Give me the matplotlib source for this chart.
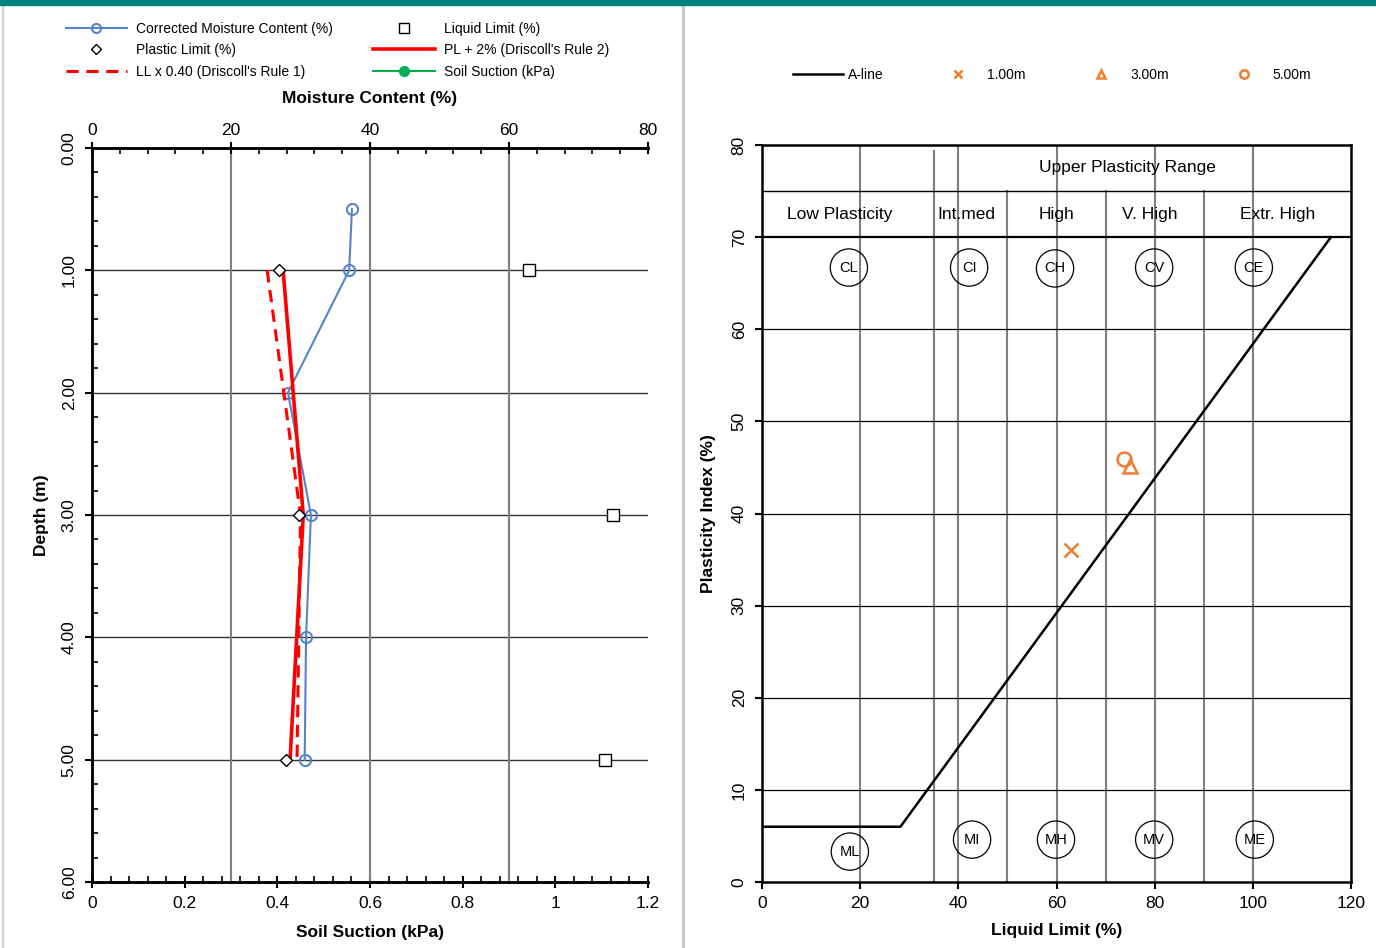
import numpy as np
import matplotlib
matplotlib.use("Agg")
import matplotlib.pyplot as plt
from matplotlib.lines import Line2D
from matplotlib.patches import Rectangle
from matplotlib.ticker import MultipleLocator, FuncFormatter

plt.rcParams['font.family'] = ['Liberation Sans', 'DejaVu Sans']

# --- left panel data: moisture profile ---
mc_depth = [0.5, 1.0, 2.0, 3.0, 4.0, 5.0]
mc_value = [37.4, 37.0, 28.2, 31.5, 30.8, 30.6]

lim_depth = [1.0, 3.0, 5.0]
plastic_limit = [26.9, 29.8, 27.9]
liquid_limit = [62.9, 75.0, 73.8]
rule2_pl_plus2 = [27.5, 30.4, 28.5]
rule1_ll_x040 = [25.2, 30.0, 29.5]

suction_depth = []
suction_kpa = []

# --- right panel data: plasticity chart ---
aline_ll = [0, 28.2, 115.9]
aline_pi = [6, 6, 70]
sample_names = ['1.00m', '3.00m', '5.00m']
sample_ll = [62.9, 75.0, 73.8]
sample_pi = [36.0, 45.2, 45.9]
sample_markers = ['x', '^', 'o']

zone_full = [20, 40, 60, 80, 100]
zone_mid = [50, 70, 90]
zone_intmed = 35
pi_grid = [10, 20, 30, 40, 50, 60]

range_labels = ['Low Plasticity', 'Int.med', 'High', 'V. High', 'Extr. High']
range_x = [15.9, 41.6, 59.9, 78.9, 105.1]
clay_labels = ['CL', 'CI', 'CH', 'CV', 'CE']
clay_x = [17.7, 42.2, 59.7, 79.9, 100.2]
clay_y = [66.7, 66.7, 66.6, 66.7, 66.7]
silt_labels = ['ML', 'MI', 'MH', 'MV', 'ME']
silt_x = [17.9, 42.8, 59.9, 79.9, 100.4]
silt_y = [3.3, 4.6, 4.6, 4.6, 4.6]

W, H = 1376, 948
fig = plt.figure(figsize=(W / 100, H / 100), dpi=100)

blue = '#5585C8'
orange = '#ED7D31'
red = '#FF0000'
green = '#00B050'

# ---------------- left panel ----------------
ax = fig.add_axes([92 / W, 1 - 882 / H, 556 / W, 734 / H])
ax.set_xlim(0, 1.2)
ax.set_ylim(6, 0)
ax.xaxis.set_major_locator(MultipleLocator(0.2))
ax.xaxis.set_minor_locator(MultipleLocator(0.04))
ax.xaxis.set_major_formatter(FuncFormatter(lambda v, p: '%g' % round(v, 2)))
ax.yaxis.set_major_locator(MultipleLocator(1))
ax.yaxis.set_minor_locator(MultipleLocator(0.2))
ax.yaxis.set_major_formatter(FuncFormatter(lambda v, p: '%.2f' % v))
ax.tick_params(axis='x', which='major', direction='inout', length=8, width=1.5,
               labelsize=12.5, pad=6)
ax.tick_params(axis='x', which='minor', direction='in', length=4, width=1.2)
ax.tick_params(axis='y', which='major', direction='out', length=5, width=1.5,
               labelsize=12.5, pad=6)
ax.tick_params(axis='y', which='minor', direction='in', length=4, width=1.2)
for lab in ax.get_yticklabels():
    lab.set_rotation(90)
    lab.set_va('center')
ax.spines['right'].set_visible(False)
for s in ['left', 'bottom', 'top']:
    ax.spines[s].set_linewidth(1.8)
ax.set_xlabel('Soil Suction (kPa)', fontsize=12.5, fontweight='bold', labelpad=10)
ax.set_ylabel('Depth (m)', fontsize=12.5, fontweight='bold', labelpad=9)
ax.grid(axis='y', which='major', color='#333333', lw=1)
ax.plot(suction_kpa, suction_depth, color=green, marker='o', lw=1.5, ms=7,
        label='Soil Suction (kPa)')

ax2 = ax.twiny()
ax2.set_xlim(0, 80)
ax2.set_ylim(6, 0)
ax2.xaxis.set_major_locator(MultipleLocator(20))
ax2.xaxis.set_minor_locator(MultipleLocator(4))
ax2.tick_params(axis='x', which='major', direction='inout', length=8, width=1.5, labelsize=12.5)
ax2.tick_params(axis='x', which='minor', direction='in', length=4, width=1.2)
ax2.spines['right'].set_visible(False)
for s in ['left', 'bottom', 'top']:
    ax2.spines[s].set_linewidth(1.8)
ax2.set_xlabel('Moisture Content (%)', fontsize=12.5, fontweight='bold', labelpad=14)
for g in [20, 40, 60]:
    ax2.axvline(g, color='#7f7f7f', lw=1.5, zorder=0)

h_mc, = ax2.plot(mc_value, mc_depth, color=blue, lw=1.5, marker='o', ms=8,
                 mfc='none', mew=1.5, label='Corrected Moisture Content (%)')
h_r1, = ax2.plot(rule1_ll_x040, lim_depth, color=red, lw=2.2, ls=(0, (4, 2.5)),
                 label="LL x 0.40 (Driscoll's Rule 1)")
h_r2, = ax2.plot(rule2_pl_plus2, lim_depth, color=red, lw=2.6,
                 label="PL + 2% (Driscoll's Rule 2)")
h_pl, = ax2.plot(plastic_limit, lim_depth, ls='none', marker='D', ms=6.5,
                 mfc='white', mec='black', mew=1.0, label='Plastic Limit (%)')
h_ll, = ax2.plot(liquid_limit, lim_depth, ls='none', marker='s', ms=8,
                 mfc='white', mec='black', mew=1.0, label='Liquid Limit (%)')
h_su = Line2D([], [], color=green, marker='o', lw=1.5, ms=7)
h_mc_leg = Line2D([], [], color=blue, lw=1.5, marker='o', ms=6.5, mfc='none', mew=1.5)
h_pl_leg = Line2D([], [], ls='none', marker='D', ms=5, mfc='white', mec='black', mew=1.0)
h_ll_leg = Line2D([], [], ls='none', marker='s', ms=6.5, mfc='white', mec='black', mew=1.0)

fig.legend([h_mc_leg, h_pl_leg, h_r1, h_ll_leg, h_r2, h_su],
           ['Corrected Moisture Content (%)', 'Plastic Limit (%)',
            "LL x 0.40 (Driscoll's Rule 1)", 'Liquid Limit (%)',
            "PL + 2% (Driscoll's Rule 2)", 'Soil Suction (kPa)'],
           ncol=2, loc='upper left', bbox_to_anchor=(53 / W, 1 - 9 / H),
           frameon=False, fontsize=10, handlelength=4.4, handletextpad=0.7,
           columnspacing=2.9, labelspacing=0.55)

# ---------------- right panel ----------------
bx = fig.add_axes([762 / W, 1 - 882 / H, 589 / W, 737 / H])
bx.set_xlim(0, 120)
bx.set_ylim(0, 80)
bx.xaxis.set_major_locator(MultipleLocator(20))
bx.yaxis.set_major_locator(MultipleLocator(10))
bx.tick_params(axis='both', direction='out', length=5, width=1.5, labelsize=12.5)
bx.tick_params(axis='x', pad=5)
bx.tick_params(axis='y', pad=6)
for lab in bx.get_yticklabels():
    lab.set_rotation(90)
    lab.set_va('center')
for s in bx.spines.values():
    s.set_linewidth(1.8)
bx.set_xlabel('Liquid Limit (%)', fontsize=12.5, fontweight='bold', labelpad=9)
bx.set_ylabel('Plasticity Index (%)', fontsize=12.5, fontweight='bold', labelpad=11)

for g in zone_full:
    bx.plot([g, g], [0, 80], color='#7f7f7f', lw=1.5, zorder=1)
for g in zone_mid:
    bx.plot([g, g], [0, 75], color='#7f7f7f', lw=1.5, zorder=1)
bx.plot([zone_intmed, zone_intmed], [0, 79.3], color='#7f7f7f', lw=1.5, zorder=1)
for g in pi_grid:
    bx.axhline(g, color='black', lw=0.9, zorder=1)
bx.axhline(70, color='black', lw=1.6, zorder=1)
bx.axhline(75, color='black', lw=1.0, zorder=1)

bx.text(74.4, 77.6, 'Upper Plasticity Range', ha='center', va='center', fontsize=12.5)
for lab, x in zip(range_labels, range_x):
    bx.text(x, 72.5, lab, ha='center', va='center', fontsize=12.5)
bx.scatter(clay_x, clay_y, s=720, facecolors='none', edgecolors='black', lw=0.9, zorder=2)
for lab, x, y in zip(clay_labels, clay_x, clay_y):
    bx.text(x, y, lab, ha='center', va='center', fontsize=10.5, zorder=3)
bx.scatter(silt_x, silt_y, s=720, facecolors='none', edgecolors='black', lw=0.9, zorder=2)
for lab, x, y in zip(silt_labels, silt_x, silt_y):
    bx.text(x, y, lab, ha='center', va='center', fontsize=10.5, zorder=3)

h_a, = bx.plot(aline_ll, aline_pi, color='black', lw=1.8, zorder=4, label='A-line')
for name, ll, pi, m in zip(sample_names, sample_ll, sample_pi, sample_markers):
    bx.plot([ll], [pi], ls='none', marker=m, ms=10, mfc='none', mec=orange,
            mew=1.8, zorder=5, label=name)

leg_handles = [Line2D([], [], color='black', lw=1.8)]
for m in sample_markers:
    leg_handles.append(Line2D([], [], ls='none', marker=m, ms=6, mfc='none',
                              mec=orange, mew=1.8))
fig.legend(leg_handles, ['A-line'] + sample_names, ncol=4, loc='center left',
           bbox_to_anchor=(781 / W, 1 - 75 / H), frameon=False, fontsize=10,
           handlelength=3.6, handletextpad=0.3, columnspacing=3.6)

# frame decorations
fig.patches.append(Rectangle((0, 1 - 5 / H), 1, 5 / H, transform=fig.transFigure,
                             color='#00807F', zorder=10))
fig.lines.append(Line2D([683 / W, 683 / W], [0, 1 - 5 / H], transform=fig.transFigure,
                        color='#c8c8c8', lw=2))
fig.lines.append(Line2D([3 / W, 3 / W], [0, 1 - 5 / H], transform=fig.transFigure,
                        color='#d0d0d0', lw=1.5))

fig.savefig('out.png', dpi=100)
